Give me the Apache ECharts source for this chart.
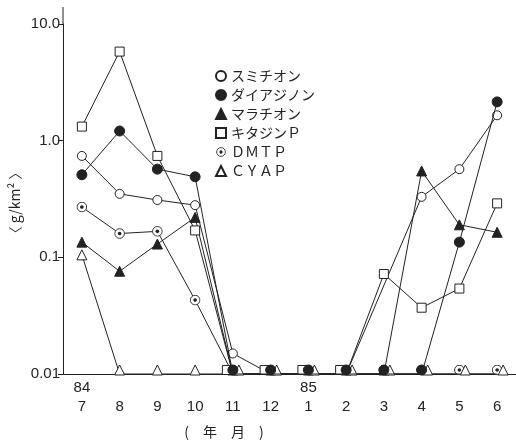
<!DOCTYPE html>
<html>
<head>
<meta charset="utf-8">
<script src="https://cdn.jsdelivr.net/npm/echarts@6/dist/echarts.min.js"></script>
<style>
    html, body { margin: 0; padding: 0; background: #fff; }
    #main { width: 516px; height: 442px; }
</style>
</head>
<body>
<div id="main"></div>
<script>
// 月 (84年7月 ～ 85年6月)
let months = ['7', '8', '9', '10', '11', '12', '1', '2', '3', '4', '5', '6'];
let years = ['84', '', '', '', '', '', '85', '', '', '', '', ''];
let yLabels = {'0.01': '0.01', '0.1': '0.1', '1': '1.0', '10': '10.0'};

// 降下量 g/km2 (0.01 = 検出限界)
let sumithion = [0.74, 0.35, 0.31, 0.28, 0.015, 0.01, 0.01, 0.01, null, 0.33, 0.57, 1.65];
let diazinon = [0.51, 1.21, 0.57, 0.49, 0.01, 0.01, 0.01, 0.01, 0.01, 0.01, 0.135, 2.15];
let malathion = [0.135, 0.076, 0.13, 0.22, 0.01, 0.01, 0.01, 0.01, 0.01, 0.55, 0.19, 0.164];
let kitazin = [1.32, 5.8, 0.74, 0.17, 0.01, 0.01, 0.01, 0.01, 0.072, 0.037, 0.054, 0.29];
let dmtp = [0.27, 0.16, 0.167, 0.043, 0.01, 0.01, 0.01, 0.01, 0.01, 0.01, 0.01, 0.01];
let cyap = [0.105, 0.01, 0.01, 0.01, 0.01, 0.01, 0.01, 0.01, 0.01, 0.01, 0.01, 0.01];

let names = ['スミチオン', 'ダイアジノン', 'マラチオン', 'キタジンＰ', 'ＤＭＴＰ', 'ＣＹＡＰ'];
let values = [sumithion, diazinon, malathion, kitazin, dmtp, cyap];

let FLOOR = 0.01;
let ink = '#222';
let dotCircle = 'image://data:image/svg+xml;utf8,' + encodeURIComponent(
    '<svg xmlns="http://www.w3.org/2000/svg" width="24" height="24">' +
    '<circle cx="12" cy="12" r="10.5" fill="#fff" stroke="#222" stroke-width="2"/>' +
    '<circle cx="12" cy="12" r="4" fill="#222"/></svg>');

let looks = [
    {symbol: 'circle', size: 9, fill: '#fff', z: 3, dx: 0},
    {symbol: 'circle', size: 10, fill: ink, z: 5, dx: 0},
    {symbol: 'triangle', size: 10, fill: ink, z: 3, dx: 0},
    {symbol: 'rect', size: 9, fill: '#fff', z: 4, dx: -6},
    {symbol: dotCircle, size: 11, fill: '#fff', z: 2, dx: 0},
    {symbol: 'triangle', size: 10, fill: '#fff', z: 4, dx: 6}
];

function buildData(k) {
    return values[k].map(function (v, i) {
        if (v !== FLOOR) return v;
        // 検出限界の点は軸の上に並べる
        let shared = values.some(function (arr, j) { return j !== k && arr[i] === FLOOR; });
        return {value: v, symbolOffset: [shared ? looks[k].dx : 0, -4]};
    });
}

let series = names.map(function (name, k) {
    return {
        name: name,
        type: 'line',
        data: buildData(k),
        symbol: looks[k].symbol,
        symbolSize: looks[k].size,
        z: looks[k].z,
        connectNulls: true,
        showAllSymbol: true,
        itemStyle: {color: looks[k].fill, borderColor: ink, borderWidth: 1},
        lineStyle: {color: ink, width: 1},
        emphasis: {disabled: true}
    };
});

let myChart = echarts.init(document.getElementById('main'));
let option = {
    animation: false,
    backgroundColor: '#fff',
    grid: {left: 63, top: 24, width: 456, height: 350},
    legend: {
        orient: 'vertical',
        left: 210,
        top: 64,
        itemWidth: 10,
        itemHeight: 10,
        itemGap: 5,
        data: names.map(function (n, k) { return {name: n, icon: looks[k].symbol}; }),
        textStyle: {fontFamily: 'Noto Sans CJK JP', fontSize: 14, color: ink}
    },
    xAxis: {
        type: 'category',
        data: months,
        boundaryGap: true,
        axisLine: {lineStyle: {color: ink, width: 1}},
        axisTick: {inside: true, length: 7, alignWithLabel: true, lineStyle: {color: ink}},
        axisLabel: {
            interval: 0,
            margin: 4,
            fontFamily: 'Liberation Sans',
            fontSize: 15,
            lineHeight: 19,
            color: ink,
            formatter: function (v, i) {
                return years[i] ? years[i] + '\n' + v : '\n' + v;
            }
        }
    },
    yAxis: {
        type: 'log',
        logBase: 10,
        min: 0.01,
        max: 10,
        axisLine: {show: true, lineStyle: {color: ink, width: 1}},
        axisTick: {show: true, length: 5, lineStyle: {color: ink}},
        splitLine: {show: false},
        axisLabel: {
            margin: 3,
            fontFamily: 'Liberation Sans',
            fontSize: 15,
            color: ink,
            formatter: function (v) { return yLabels[String(v)] || ''; }
        }
    },
    graphic: [
        {type: 'line', shape: {x1: 63, y1: 7, x2: 63, y2: 24}, style: {stroke: ink, lineWidth: 1}},
        {
            type: 'text', x: 15, y: 203, rotation: Math.PI / 2,
            style: {text: '〈 g/km² 〉', fontFamily: 'Noto Sans CJK JP', fontSize: 14, fill: ink, align: 'center', verticalAlign: 'middle'}
        },
        {
            type: 'text', x: 224, y: 432,
            style: {text: '(　年　月　)', fontFamily: 'Noto Sans CJK JP', fontSize: 14, fill: ink, align: 'center', verticalAlign: 'middle'}
        }
    ],
    series: series
};
myChart.setOption(option);
</script>
</body>
</html>
